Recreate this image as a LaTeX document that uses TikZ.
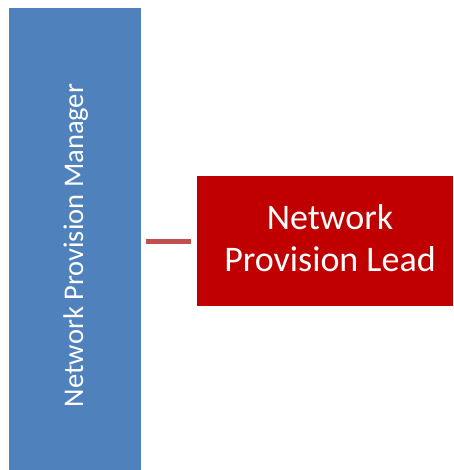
\documentclass[tikz,border=0pt]{standalone}
\usepackage{fontspec}
\setmainfont{Carlito}
\definecolor{mgrblue}{HTML}{4F81BD}
\definecolor{leadred}{HTML}{C00000}
\definecolor{linkred}{HTML}{C0504D}
\begin{document}
\begin{tikzpicture}[x=1pt,y=-1pt,
  boxtext/.style={text=white,inner sep=0pt,anchor=base}]
\useasboundingbox (0,0) rectangle (453,470);
\fill[mgrblue] (9,8) rectangle (141,470);
\node[boxtext,rotate=90,font=\fontsize{28.5}{34}\selectfont] (mgr) at (83,245.5) {Network Provision Manager};
\coordinate (mgrR) at (146,241);
\fill[leadred] (197,176) rectangle (453,306);
\node[boxtext,font=\fontsize{36}{42}\selectfont] (lead1) at (330,229) {Network};
\node[boxtext,font=\fontsize{36}{42}\selectfont] (lead2) at (330,271) {Provision Lead};
\coordinate (leadL) at (191,241);
\draw[linkred,line width=5pt] (mgrR) -- (leadL);
\end{tikzpicture}
\end{document}
